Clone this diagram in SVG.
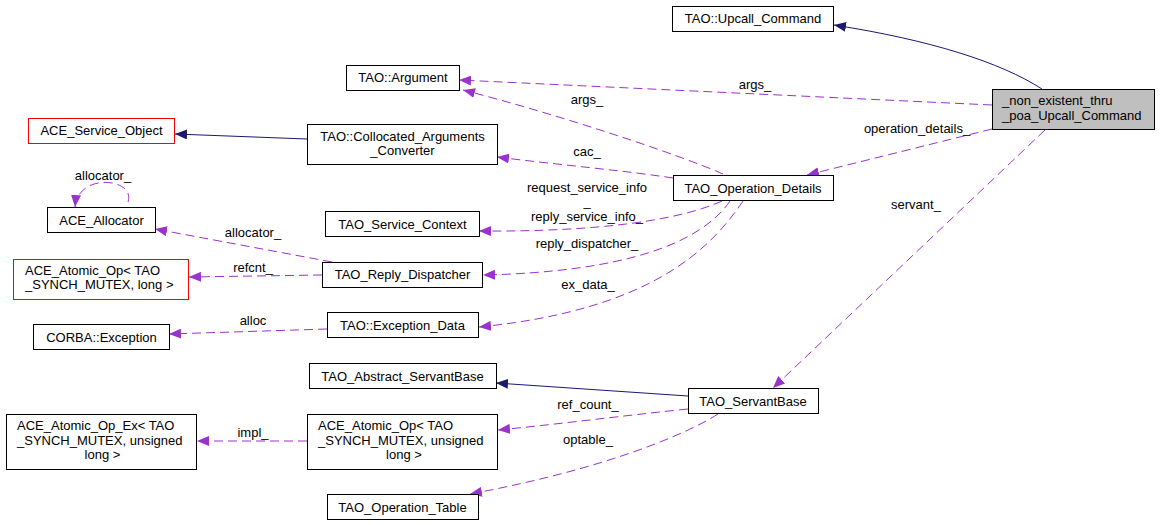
<svg xmlns="http://www.w3.org/2000/svg" width="1160" height="525" viewBox="0 0 1160 525">
<style>
  text { font-family: "Liberation Sans", Arial, sans-serif; font-size: 13px; fill: #000; }
  .c { text-anchor: middle; }
  .s { text-anchor: start; }
  .box { fill: #fff; stroke: #000; stroke-width: 1; }
  .red { fill: #fff; stroke: #ff0000; stroke-width: 1; }
  .main { fill: #bfbfbf; stroke: #000; stroke-width: 1; }
  .use { fill: none; stroke: #9a32cd; stroke-width: 1; stroke-dasharray: 9,5; marker-end: url(#ap); }
  .inh { fill: none; stroke: #191970; stroke-width: 1; marker-end: url(#ab); }
</style>
<defs>
  <marker id="ap" markerUnits="userSpaceOnUse" markerWidth="12" markerHeight="10" refX="12" refY="5" orient="auto">
    <path d="M0,0 L12,5 L0,10 z" fill="#9a32cd"/>
  </marker>
  <marker id="ab" markerUnits="userSpaceOnUse" markerWidth="12" markerHeight="10" refX="12" refY="5" orient="auto">
    <path d="M0,0 L12,5 L0,10 z" fill="#191970"/>
  </marker>
</defs>
<rect width="1160" height="525" fill="#fff"/>

<g id="connectors">
  <path class="inh" d="M1042,89 C1000,62 930,40 834,25"/>
  <path class="use" d="M992,105 L459,80"/>
  <text class="c" x="755" y="88.5">args_</text>
  <path class="use" d="M723,174 C680,155 560,115 463,90"/>
  <text class="c" x="587" y="103.5">args_</text>
  <path class="use" d="M992,129 L807,175"/>
  <text class="c" x="917" y="133">operation_details_</text>
  <path class="use" d="M1045,130 L773,388"/>
  <text class="c" x="916" y="208.5">servant_</text>
  <path class="inh" d="M307,139 L175,134"/>
  <path class="use" d="M673,178 C620,170 560,165 497,157"/>
  <text class="c" x="587" y="155.5">cac_</text>
  <path class="use" d="M722,201 C680,220 600,232 479,231"/>
  <text class="c" x="587" y="191.5">request_service_info</text>
  <text class="c" x="587" y="206">_</text>
  <text class="c" x="587" y="220.5">reply_service_info_</text>
  <path class="use" d="M730,201 C700,245 620,272 483,275"/>
  <text class="c" x="587" y="247.5">reply_dispatcher_</text>
  <path class="use" d="M743,201 C710,250 650,310 479,327"/>
  <text class="c" x="588" y="289">ex_data_</text>
  <path class="use" d="M128,202 C136,178 78,172 75,207"/>
  <text class="c" x="103" y="179.5">allocator_</text>
  <path class="use" d="M332,262 L155,229"/>
  <text class="c" x="253" y="237">allocator_</text>
  <path class="use" d="M322,275 L189,277"/>
  <text class="c" x="253" y="271.5">refcnt_</text>
  <path class="use" d="M327,329 L169,334"/>
  <text class="c" x="253" y="325">alloc</text>
  <path class="inh" d="M688,396 L496,383"/>
  <path class="use" d="M688,409 C620,416 560,424 498,430"/>
  <text class="c" x="588" y="409">ref_count_</text>
  <path class="use" d="M718,414 C690,432 610,468 470,494"/>
  <text class="c" x="588" y="443.5">optable_</text>
  <path class="use" d="M307,441 L197,441"/>
  <text class="c" x="253" y="437">impl_</text>
</g>

<g id="node_main">
  <rect class="main" x="992.5" y="89.5" width="162" height="40"/>
  <text class="s" x="1002" y="104.5">_non_existent_thru</text>
  <text class="s" x="1002" y="120">_poa_Upcall_Command</text>
</g>
<g id="node_upcall">
  <rect class="box" x="672.5" y="6.5" width="161" height="25"/>
  <text class="c" x="753" y="23">TAO::Upcall_Command</text>
</g>
<g id="node_argument">
  <rect class="box" x="346.5" y="65.5" width="113" height="25"/>
  <text class="c" x="403" y="82">TAO::Argument</text>
</g>
<g id="node_opdetails">
  <rect class="box" x="673.5" y="175.5" width="160" height="25"/>
  <text class="c" x="753" y="192.5">TAO_Operation_Details</text>
</g>
<g id="node_service_object">
  <rect class="red" x="28.5" y="118.5" width="146" height="25"/>
  <text class="c" x="101.5" y="135">ACE_Service_Object</text>
</g>
<g id="node_cac">
  <rect class="box" x="307.5" y="124.5" width="190" height="40"/>
  <text class="c" x="402.5" y="140.5">TAO::Collocated_Arguments</text>
  <text class="c" x="402.5" y="155">_Converter</text>
</g>
<g id="node_allocator">
  <rect class="box" x="47.5" y="207.5" width="108" height="25"/>
  <text class="c" x="101.5" y="224.5">ACE_Allocator</text>
</g>
<g id="node_service_context">
  <rect class="box" x="325.5" y="211.5" width="154" height="25"/>
  <text class="c" x="402.5" y="228.5">TAO_Service_Context</text>
</g>
<g id="node_atomic_long">
  <rect class="red" x="13.5" y="259.5" width="175" height="40"/>
  <text class="s" x="25" y="275">ACE_Atomic_Op&lt; TAO</text>
  <text class="s" x="25" y="289">_SYNCH_MUTEX, long &gt;</text>
</g>
<g id="node_reply_dispatcher">
  <rect class="box" x="322.5" y="262.5" width="160" height="25"/>
  <text class="c" x="402.5" y="279">TAO_Reply_Dispatcher</text>
</g>
<g id="node_corba_exception">
  <rect class="box" x="33.5" y="324.5" width="136" height="25"/>
  <text class="c" x="101.5" y="341.5">CORBA::Exception</text>
</g>
<g id="node_exception_data">
  <rect class="box" x="327.5" y="312.5" width="151" height="25"/>
  <text class="c" x="402.5" y="329.5">TAO::Exception_Data</text>
</g>
<g id="node_abstract_servant">
  <rect class="box" x="309.5" y="363.5" width="187" height="25"/>
  <text class="c" x="402.5" y="380.5">TAO_Abstract_ServantBase</text>
</g>
<g id="node_servantbase">
  <rect class="box" x="688.5" y="388.5" width="130" height="25"/>
  <text class="c" x="753" y="405.5">TAO_ServantBase</text>
</g>
<g id="node_atomic_ex">
  <rect class="box" x="6.5" y="414.5" width="190" height="55"/>
  <text class="s" x="17" y="430">ACE_Atomic_Op_Ex&lt; TAO</text>
  <text class="s" x="17" y="445">_SYNCH_MUTEX, unsigned</text>
  <text class="c" x="102.5" y="459">long &gt;</text>
</g>
<g id="node_atomic_unsigned">
  <rect class="box" x="307.5" y="414.5" width="190" height="55"/>
  <text class="s" x="318" y="430">ACE_Atomic_Op&lt; TAO</text>
  <text class="s" x="318" y="445">_SYNCH_MUTEX, unsigned</text>
  <text class="c" x="404" y="459">long &gt;</text>
</g>
<g id="node_operation_table">
  <rect class="box" x="327.5" y="494.5" width="151" height="25"/>
  <text class="c" x="402.5" y="511.5">TAO_Operation_Table</text>
</g>
</svg>
